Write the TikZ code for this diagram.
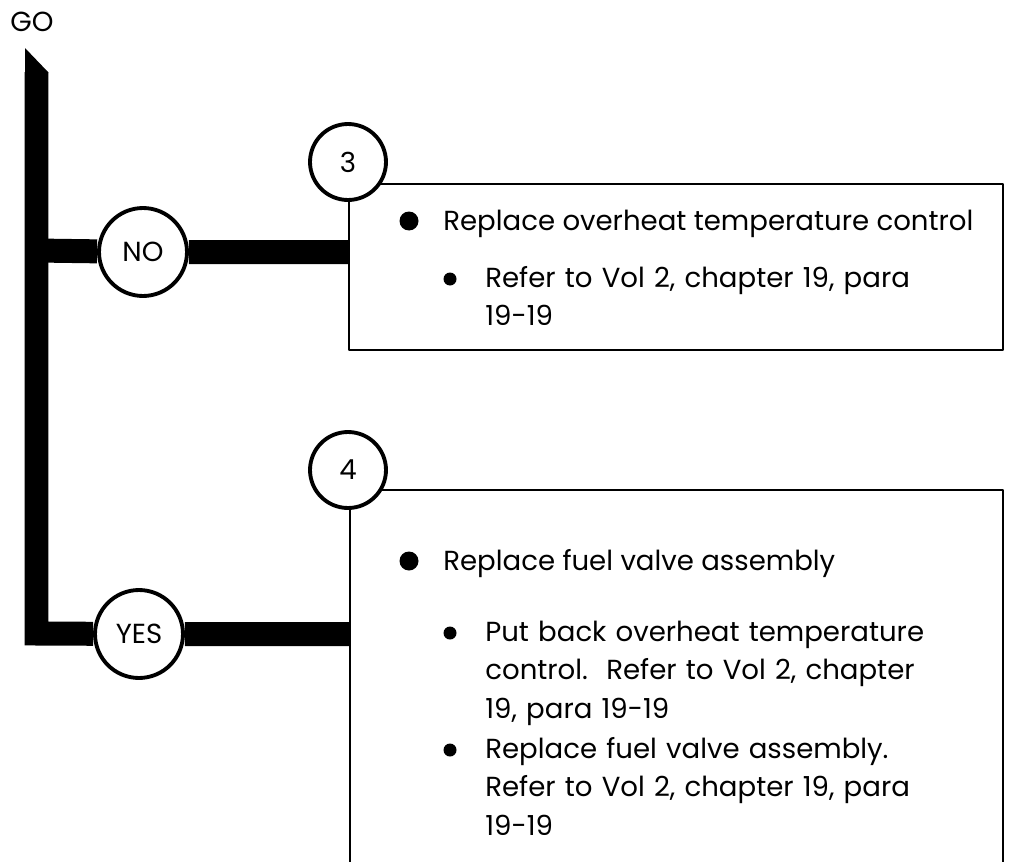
\documentclass[tikz,border=0pt]{standalone}
\usepackage{fontspec}
\setmainfont{Poppins}
\usetikzlibrary{positioning, calc, backgrounds}

\tikzset{
  flow/.style={line width=0.48cm, line join=miter, line cap=butt},
  answer/.style={circle, draw, line width=2.2pt, fill=white, minimum size=1.76cm, inner sep=0pt},
  stepnum/.style={circle, draw, line width=2.2pt, fill=white, minimum size=1.52cm, inner sep=0pt},
  fixbox/.style={draw, line width=1.4pt, minimum width=13.08cm, minimum height=3.32cm, anchor=north west},
  txt/.style={font=\fontsize{15.7}{22.1}\selectfont, inner sep=0pt},
  item/.style={txt, anchor=base west, align=left, text width=10.5cm},
}

\begin{document}
\begin{tikzpicture}[x=0.02cm, y=-0.02cm, line join=round]
  \useasboundingbox (0,0) rectangle (1011,862);

  \node[txt, anchor=west] (go) at (10,22) {GO};

  % answers and boxes
  \node[answer, txt] (no) at (143,252) {NO};
  \node[answer, txt] (yes) at (139,634) {YES};
  \node[fixbox] (fix3) at (348,183) {};
  \coordinate (fix4) at (350,490);
  \draw[line width=1.4pt] (350,862) -- (fix4) -- (1003,490) -- (1003,862);
  \node[stepnum, txt] (n3) at (348,162) {3};
  \node[stepnum, txt] (n4) at (348,470) {4};

  % trunk
  \coordinate (top) at (36.5,72);
  \coordinate (split) at (36.5,250.5);
  \coordinate (corner) at (36.5,633.5);
  \begin{scope}[on background layer]
    \fill (25,48) -- (48,72) -- (48,73) -- (25,73) -- cycle;
    \draw[flow] (top) -- (corner) -- (yes) -- (yes -| fix4);
    \draw[flow] (split) -- (no) -- (no -| fix3.west);
  \end{scope}

  % box 3
  \node[txt, anchor=base west] (t3) at (443,230) {Replace overheat temperature control};
  \fill ($(t3.base west)+(-34,-9)$) circle (0.19cm);
  \node[item] (t3a) at (485,287) {Refer to Vol 2, chapter 19, para\\19-19};
  \fill ($(t3a.base west)+(-35,-8)$) circle (0.13cm);

  % box 4
  \node[txt, anchor=base west] (t4) at (443,570) {Replace fuel valve assembly};
  \fill ($(t4.base west)+(-34,-9)$) circle (0.19cm);
  \node[item] (t4a) at (485,641) {Put back overheat temperature\\control.\ \ Refer to Vol 2, chapter\\19, para 19-19};
  \fill ($(t4a.base west)+(-35,-8)$) circle (0.13cm);
  \node[item] (t4b) at (485,758) {Replace fuel valve assembly.\\Refer to Vol 2, chapter 19, para\\19-19};
  \fill ($(t4b.base west)+(-35,-8)$) circle (0.13cm);
\end{tikzpicture}
\end{document}
